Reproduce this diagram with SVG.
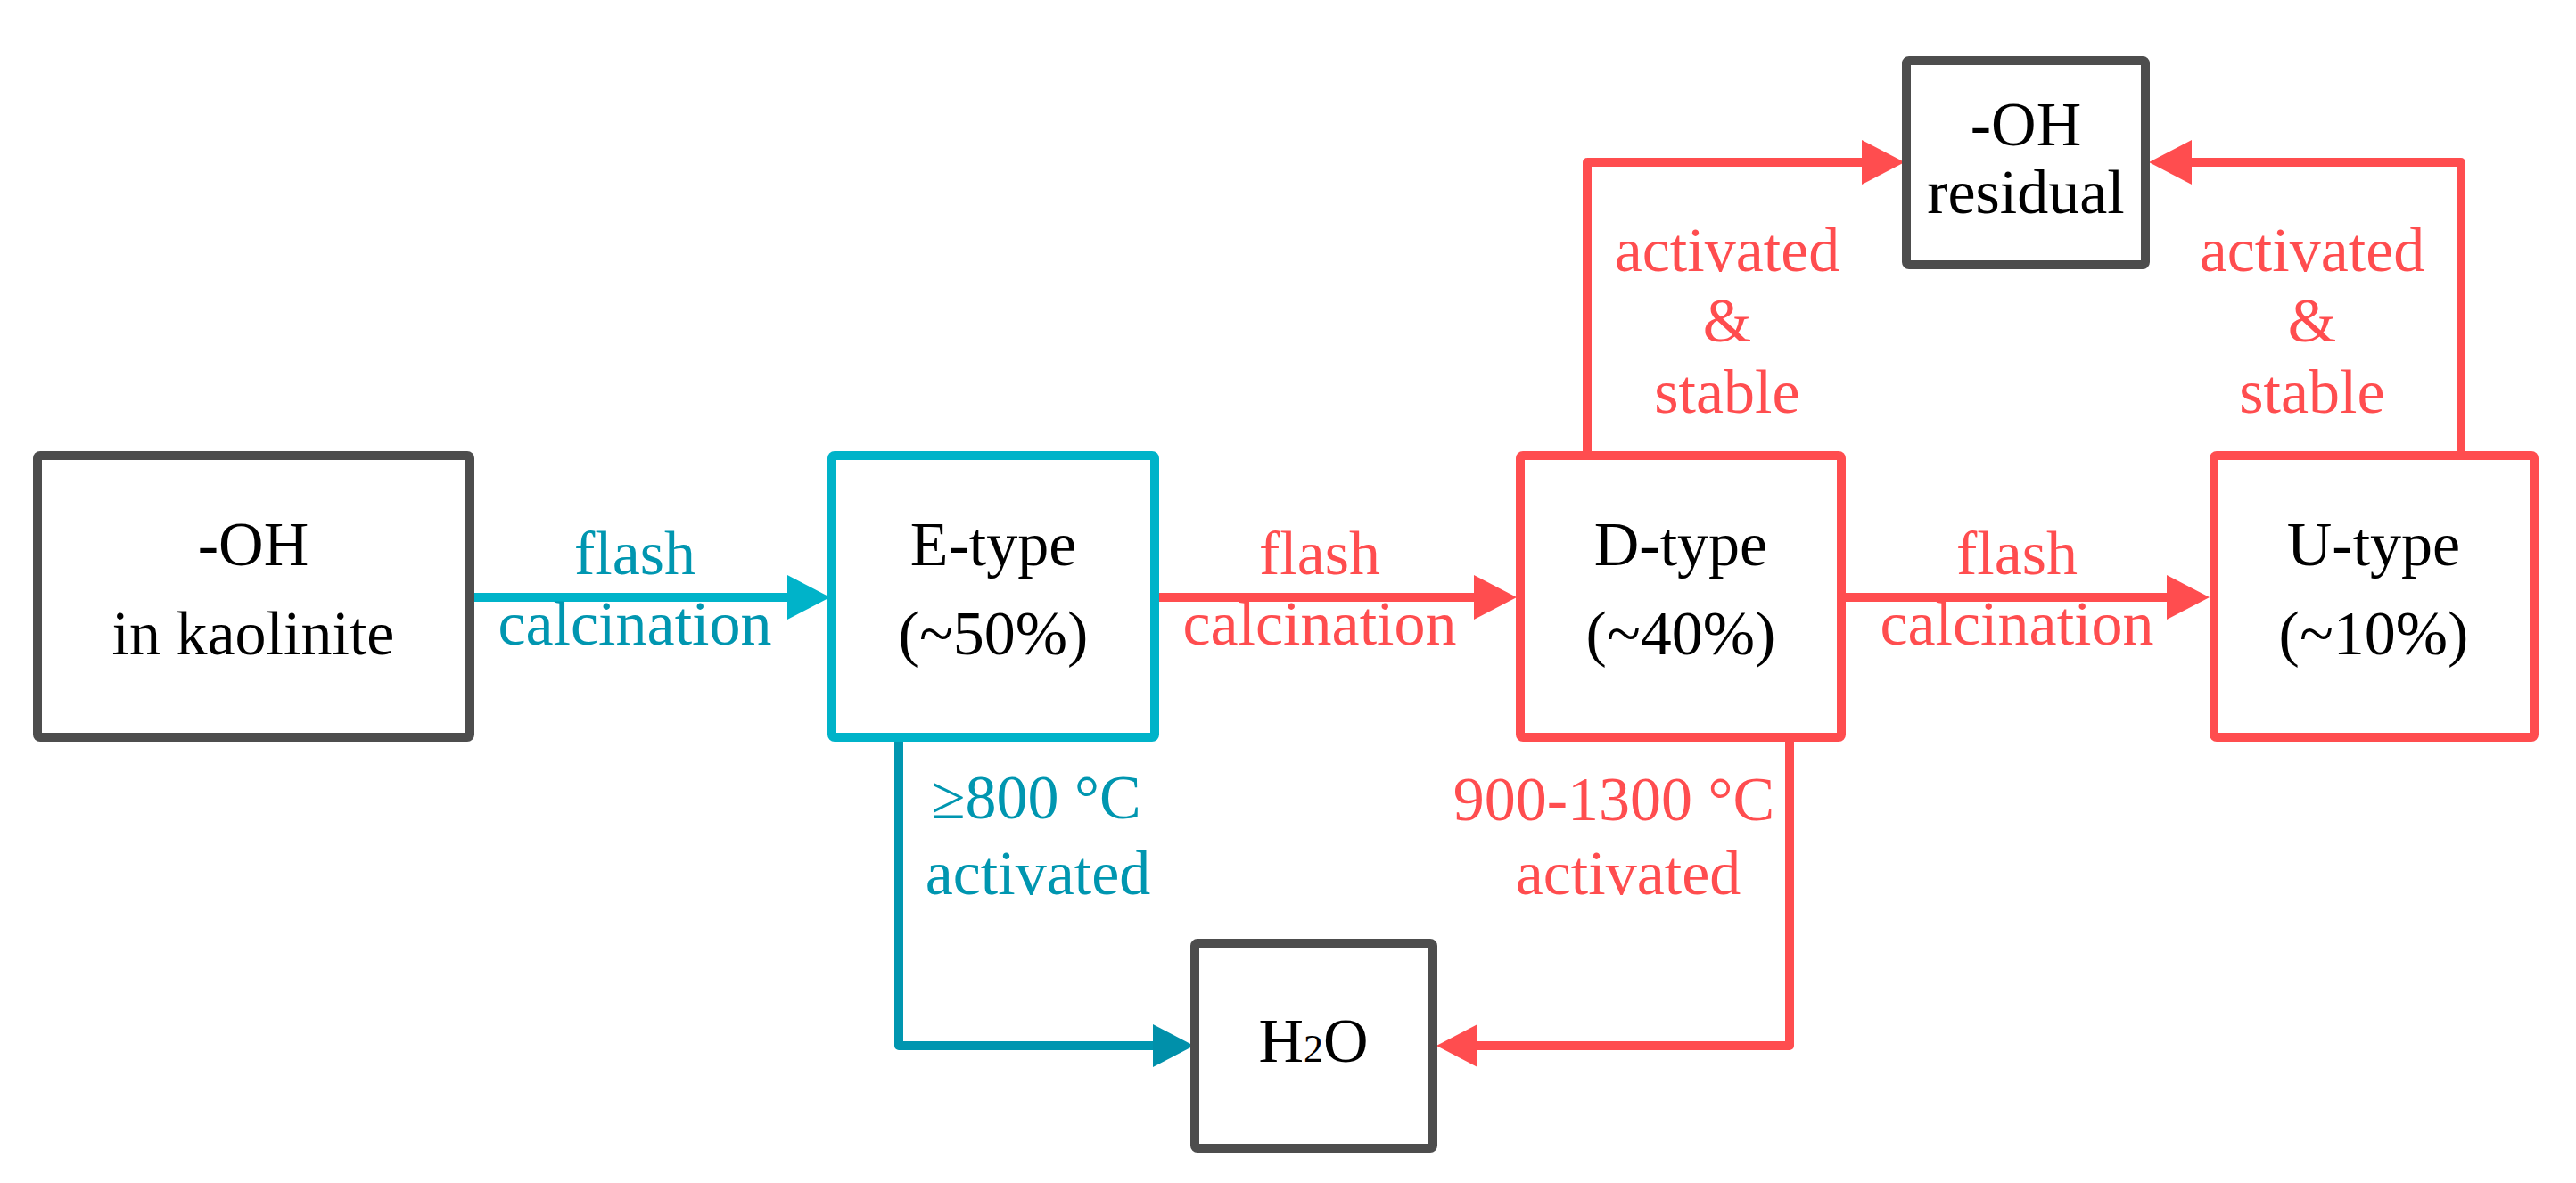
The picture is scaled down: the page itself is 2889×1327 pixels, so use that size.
<svg xmlns="http://www.w3.org/2000/svg" width="2889" height="1327" viewBox="0 0 2889 1327">
<style>
.box{fill:#FFFFFF;stroke-width:10;stroke-linejoin:round}
.gray{stroke:#4D4D4D}
.cy{stroke:#00B3C9}
.rd{stroke:#FF4D4F}
.t{font-family:"Liberation Serif","Times New Roman",serif;font-size:70px;text-anchor:middle;fill:#000000}
.tr{fill:#FF4D4F}
.tc{fill:#0096B0}
.ln{fill:none;stroke-width:10;stroke-linejoin:round}
</style>
<rect width="2889" height="1327" fill="#FFFFFF"/>
<g id="connectors">
<path class="ln" d="M527 670 H887" stroke="#00B3C9"/>
<polygon points="883,645 931,670 883,695" fill="#00B3C9"/>
<path class="ln" d="M1295 670 H1657" stroke="#FF4D4F"/>
<polygon points="1653,645 1701,670 1653,695" fill="#FF4D4F"/>
<path class="ln" d="M2064 670 H2434" stroke="#FF4D4F"/>
<polygon points="2430,645 2478,670 2430,695" fill="#FF4D4F"/>
<path class="ln" d="M1780 506 V182 H2092" stroke="#FF4D4F"/>
<polygon points="2088,157 2136,182 2088,207" fill="#FF4D4F"/>
<path class="ln" d="M2760 506 V182 H2454" stroke="#FF4D4F"/>
<polygon points="2458,157 2410,182 2458,207" fill="#FF4D4F"/>
<path class="ln" d="M1008 832 V1173 H1297" stroke="#0096B0" stroke-width="9"/>
<polygon points="1293,1149 1339,1173 1293,1197" fill="#0090AA"/>
<path class="ln" d="M2007 832 V1173 H1653" stroke="#FF4D4F"/>
<polygon points="1657,1149 1611,1173 1657,1197" fill="#FF4D4F"/>
</g>
<g id="labels">
<text class="t tc" x="712" y="644">flash</text>
<text class="t tc" x="712" y="723">calcination</text>
<text class="t tr" x="1480" y="644">flash</text>
<text class="t tr" x="1480" y="723">calcination</text>
<text class="t tr" x="2262" y="644">flash</text>
<text class="t tr" x="2262" y="723">calcination</text>
<text class="t tr" x="1937" y="304">activated</text>
<text class="t tr" x="1937" y="383">&amp;</text>
<text class="t tr" x="1937" y="463">stable</text>
<text class="t tr" x="2593" y="304">activated</text>
<text class="t tr" x="2593" y="383">&amp;</text>
<text class="t tr" x="2593" y="463">stable</text>
<text class="t tc" x="1162" y="918">≥800 °C</text>
<text class="t tc" x="1164" y="1003">activated</text>
<text class="t tr" x="1810" y="920">900-1300 °C</text>
<text class="t tr" x="1826" y="1003">activated</text>
</g>
<g id="node-kaolinite">
<rect class="box gray" x="42" y="511" width="485" height="316" rx="3"/>
<text class="t" x="284" y="634">-OH</text>
<text class="t" x="284" y="734">in kaolinite</text>
</g>
<g id="node-etype">
<rect class="box cy" x="933" y="511" width="362" height="316" rx="3"/>
<text class="t" x="1114" y="634">E-type</text>
<text class="t" x="1114" y="734">(~50%)</text>
</g>
<g id="node-dtype">
<rect class="box rd" x="1705" y="511" width="360" height="316" rx="3"/>
<text class="t" x="1885" y="634">D-type</text>
<text class="t" x="1885" y="734">(~40%)</text>
</g>
<g id="node-utype">
<rect class="box rd" x="2483" y="511" width="359" height="316" rx="3"/>
<text class="t" x="2662" y="634">U-type</text>
<text class="t" x="2662" y="734">(~10%)</text>
</g>
<g id="node-residual">
<rect class="box gray" x="2138" y="68" width="268" height="229" rx="3"/>
<text class="t" x="2272" y="163">-OH</text>
<text class="t" x="2272" y="239">residual</text>
</g>
<g id="node-h2o">
<rect class="box gray" x="1340" y="1058" width="267" height="230" rx="3"/>
<text class="t" x="1473" y="1191">H<tspan font-size="44">2</tspan>O</text>
</g>
</svg>
